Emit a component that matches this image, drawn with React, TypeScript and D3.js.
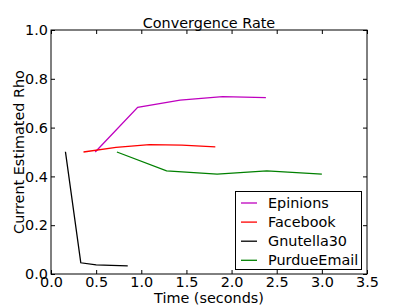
import React, { useEffect, useRef } from 'react';
import * as d3 from 'd3';

// series (time in seconds, estimated rho)
const seriesNames = ['Epinions', 'Facebook', 'Gnutella30', 'PurdueEmail'];
const seriesColors = ['#bf00bf', '#ff0000', '#000000', '#008000'];
const epinionsTime = [0.49, 0.96, 1.43, 1.9, 2.38];
const epinionsRho = [0.5, 0.683, 0.713, 0.727, 0.723];
const facebookTime = [0.36, 0.72, 1.09, 1.45, 1.82];
const facebookRho = [0.5, 0.519, 0.53, 0.528, 0.521];
const gnutellaTime = [0.16, 0.33, 0.5, 0.67, 0.85];
const gnutellaRho = [0.501, 0.046, 0.037, 0.035, 0.033];
const purdueTime = [0.73, 1.28, 1.84, 2.39, 3.0];
const purdueRho = [0.5, 0.423, 0.409, 0.423, 0.409];

const xTicks = [0, 0.5, 1, 1.5, 2, 2.5, 3, 3.5];
const yTicks = [0, 0.2, 0.4, 0.6, 0.8, 1.0];

const App = () => {
  const ref = useRef<SVGSVGElement>(null);

  useEffect(() => {
    const width = 407;
    const height = 305;
    const m = { left: 51, right: 40, top: 30, bottom: 31 };
    const font = 'DejaVu Sans, sans-serif';
    const fs = 14.4;

    const svg = d3.select(ref.current);
    svg.selectAll('*').remove();

    const x = d3.scaleLinear().domain([0, 3.5]).range([m.left, width - m.right]);
    const y = d3.scaleLinear().domain([0, 1]).range([height - m.bottom, m.top]);

    const data = [
      [epinionsTime, epinionsRho],
      [facebookTime, facebookRho],
      [gnutellaTime, gnutellaRho],
      [purdueTime, purdueRho],
    ].map(([t, r]) => t.map((v, i) => [v, r[i]] as [number, number]));

    const line = d3.line<[number, number]>()
      .x(d => x(d[0]))
      .y(d => y(d[1]));

    svg.selectAll('path.series')
      .data(data)
      .enter().append('path')
      .attr('class', 'series')
      .attr('d', line)
      .attr('fill', 'none')
      .attr('stroke', (d, i) => seriesColors[i])
      .attr('stroke-width', 1.3);

    // inward ticks on all four sides, like matplotlib classic
    const tl = 4;
    const bottom = d3.axisBottom(x).tickValues(xTicks).tickSizeInner(-tl).tickSizeOuter(0)
      .tickPadding(3).tickFormat(d3.format('.1f'));
    const top = d3.axisTop(x).tickValues(xTicks).tickSizeInner(-tl).tickSizeOuter(0).tickFormat(() => '');
    const left = d3.axisLeft(y).tickValues(yTicks).tickSizeInner(-tl).tickSizeOuter(0)
      .tickPadding(3).tickFormat(d3.format('.1f'));
    const right = d3.axisRight(y).tickValues(yTicks).tickSizeInner(-tl).tickSizeOuter(0).tickFormat(() => '');

    const axes = [
      svg.append('g').attr('transform', `translate(0,${height - m.bottom})`).call(bottom),
      svg.append('g').attr('transform', `translate(0,${m.top})`).call(top),
      svg.append('g').attr('transform', `translate(${m.left},0)`).call(left),
      svg.append('g').attr('transform', `translate(${width - m.right},0)`).call(right),
    ];
    axes.forEach(g => {
      g.select('.domain').remove();
      g.selectAll('text').attr('font-family', font).attr('font-size', fs).attr('fill', '#000');
      g.selectAll('line').attr('stroke', '#000');
    });

    svg.append('rect')
      .attr('x', m.left).attr('y', m.top)
      .attr('width', width - m.left - m.right).attr('height', height - m.top - m.bottom)
      .attr('fill', 'none').attr('stroke', '#000').attr('stroke-width', 1);

    svg.append('text')
      .attr('x', (m.left + width - m.right) / 2).attr('y', 27.5)
      .attr('text-anchor', 'middle').attr('font-family', font).attr('font-size', fs)
      .text('Convergence Rate');

    svg.append('text')
      .attr('x', (m.left + width - m.right) / 2).attr('y', 303)
      .attr('text-anchor', 'middle').attr('font-family', font).attr('font-size', fs)
      .text('Time (seconds)');

    svg.append('text')
      .attr('transform', `translate(24,${(m.top + height - m.bottom) / 2}) rotate(-90)`)
      .attr('text-anchor', 'middle').attr('font-family', font).attr('font-size', fs)
      .text('Current Estimated Rho');

    // legend
    const lg = svg.append('g');
    lg.append('rect')
      .attr('x', 235.5).attr('y', 191.5).attr('width', 126).attr('height', 78)
      .attr('fill', '#fff').attr('stroke', '#000').attr('stroke-width', 1);
    seriesNames.forEach((name, i) => {
      const cy = 203 + i * 19.1;
      lg.append('line')
        .attr('x1', 241).attr('x2', 257).attr('y1', cy).attr('y2', cy)
        .attr('stroke', seriesColors[i]).attr('stroke-width', 1.3);
      lg.append('text')
        .attr('x', 268).attr('y', cy).attr('dy', '0.35em')
        .attr('font-family', font).attr('font-size', fs)
        .text(name);
    });
  }, []);

  return (
    <svg ref={ref} width={407} height={305}
      style={{ position: 'absolute', left: 0, top: 0, background: '#fff' }} />
  );
};

export default App;
